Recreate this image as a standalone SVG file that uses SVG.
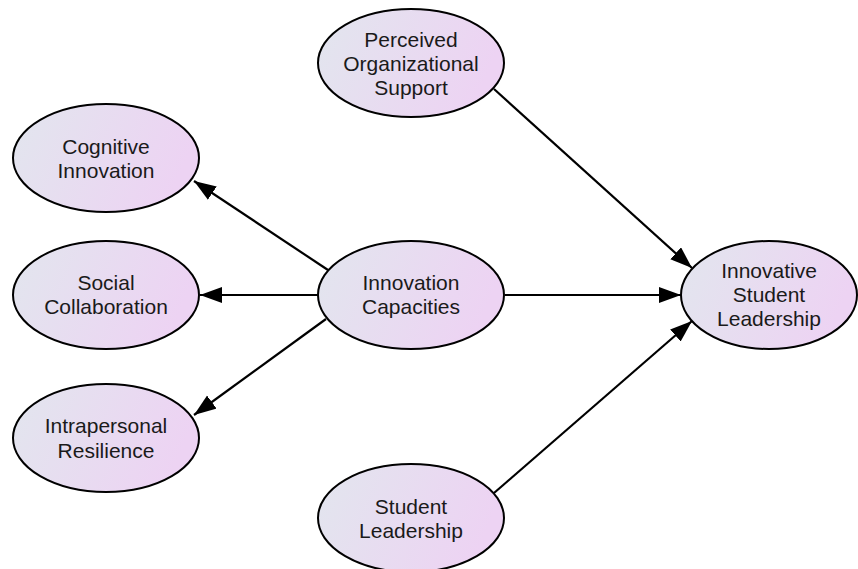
<svg xmlns="http://www.w3.org/2000/svg" width="858" height="569" viewBox="0 0 858 569">
<style>
.n{stroke:#000;stroke-width:2;fill:url(#g)}
.t{font-family:"Liberation Sans",Arial,sans-serif;font-size:21px;fill:#1a1a1a;text-anchor:middle}
.e{stroke:#000;stroke-width:2.2;fill:none;marker-end:url(#a)}
</style>
<defs>
<linearGradient id="g" x1="0" y1="0" x2="1" y2="0.25">
<stop offset="0" stop-color="#e2e6ee"/>
<stop offset="1" stop-color="#edd3f3"/>
</linearGradient>
<marker id="a" markerUnits="userSpaceOnUse" markerWidth="24" markerHeight="18" refX="22" refY="8" orient="auto">
<path d="M0,0 L22,8 L0,16 z" fill="#000"/>
</marker>
</defs>
<rect width="858" height="569" fill="#fff"/>
<g id="edges">
<line class="e" x1="328" y1="270" x2="194" y2="181"/>
<line class="e" x1="318" y1="295" x2="200" y2="295"/>
<line class="e" x1="326" y1="319" x2="194" y2="415"/>
<line class="e" x1="505" y1="295" x2="681" y2="295"/>
<line class="e" x1="494" y1="89" x2="692" y2="268"/>
<line class="e" x1="494" y1="493" x2="692" y2="321"/>
</g>
<g id="cognitive">
<ellipse class="n" cx="106" cy="158" rx="93" ry="54"/>
<text class="t" x="106" y="154">Cognitive</text>
<text class="t" x="106" y="178">Innovation</text>
</g>
<g id="social">
<ellipse class="n" cx="106" cy="295" rx="93" ry="54"/>
<text class="t" x="106" y="290">Social</text>
<text class="t" x="106" y="314">Collaboration</text>
</g>
<g id="intrapersonal">
<ellipse class="n" cx="106" cy="438" rx="93" ry="54"/>
<text class="t" x="106" y="433">Intrapersonal</text>
<text class="t" x="106" y="458">Resilience</text>
</g>
<g id="perceived">
<ellipse class="n" cx="411" cy="63" rx="93" ry="54"/>
<text class="t" x="411" y="47">Perceived</text>
<text class="t" x="411" y="71">Organizational</text>
<text class="t" x="411" y="95">Support</text>
</g>
<g id="innovation">
<ellipse class="n" cx="411" cy="295" rx="93" ry="54"/>
<text class="t" x="411" y="290">Innovation</text>
<text class="t" x="411" y="314">Capacities</text>
</g>
<g id="student">
<ellipse class="n" cx="411" cy="518" rx="93" ry="54"/>
<text class="t" x="411" y="514">Student</text>
<text class="t" x="411" y="538">Leadership</text>
</g>
<g id="isl">
<ellipse class="n" cx="769" cy="295" rx="88" ry="54"/>
<text class="t" x="769" y="278">Innovative</text>
<text class="t" x="769" y="302">Student</text>
<text class="t" x="769" y="326">Leadership</text>
</g>
</svg>
